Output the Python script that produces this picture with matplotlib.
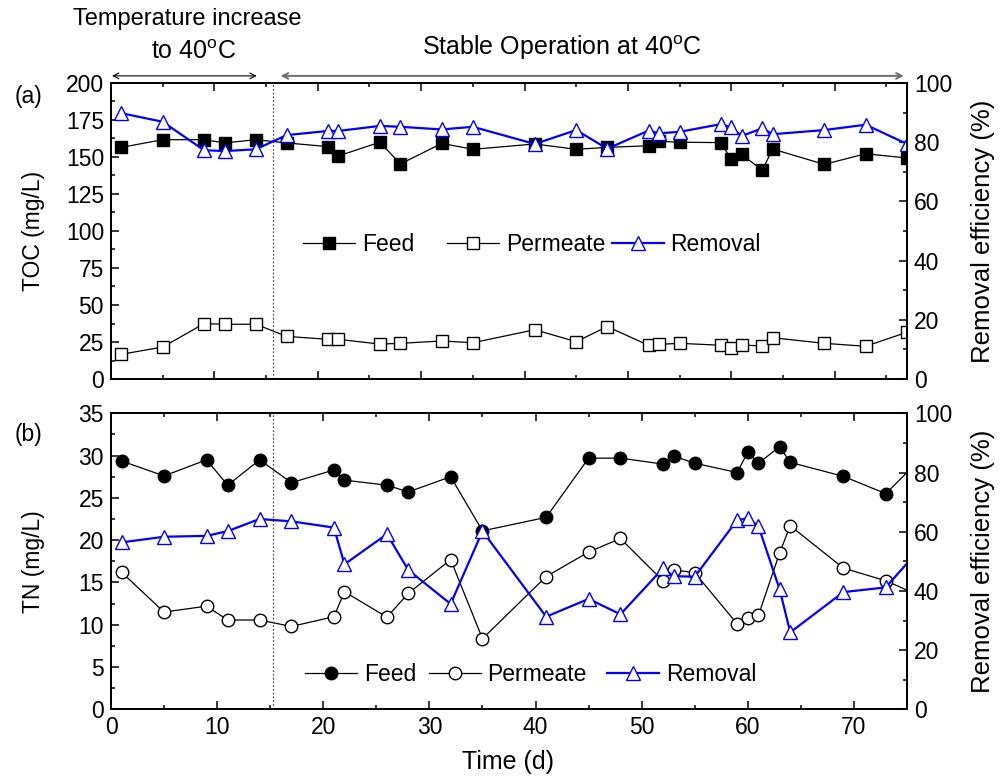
import matplotlib
matplotlib.use("Agg")
import matplotlib.pyplot as plt
from matplotlib.ticker import MultipleLocator
from matplotlib.legend import Legend

plt.rcParams['font.family'] = ['Liberation Sans', 'DejaVu Sans']
plt.rcParams['mathtext.fontset'] = 'custom'
plt.rcParams['mathtext.rm'] = 'Liberation Sans'
plt.rcParams['mathtext.it'] = 'Liberation Sans'

# ---- data ----
days = [1, 5, 9, 11, 14, 17, 21, 22, 26, 28, 32, 35, 41, 45, 48, 52, 53, 55,
        59, 60, 61, 63, 64, 69, 73, 77]
toc_feed = [156.5, 161.7, 161.7, 159.5, 161.7, 159.5, 157.0, 150.7, 160.0, 145.3,
            159.2, 155.2, 158.8, 155.2, 156.5, 157.6, 160.6, 160.0, 159.7, 148.4,
            151.8, 141.0, 155.4, 145.0, 152.2, 149.3]
toc_perm = [16.7, 21.6, 37.4, 37.0, 37.0, 28.8, 26.8, 26.8, 23.6, 24.1, 25.7, 24.5,
            33.3, 25.2, 35.4, 22.8, 23.4, 24.1, 22.8, 21.2, 23.0, 22.3, 27.9, 24.1,
            22.1, 31.6]
toc_rem = [89.8, 86.9, 77.3, 77.0, 77.6, 82.4, 83.8, 83.8, 85.5, 85.2, 84.3, 85.2,
           79.4, 84.1, 77.8, 83.9, 83.0, 83.5, 86.1, 85.0, 82.1, 84.7, 82.7, 84.1,
           85.9, 79.4]
tn_feed = [29.36, 27.6, 29.5, 26.5, 29.5, 26.8, 28.3, 27.1, 26.5, 25.7, 27.5, 21.1,
           22.7, 29.7, 29.7, 29.0, 29.95, 29.1, 28.0, 30.4, 29.1, 31.05, 29.2, 27.55,
           25.5, 30.5]
tn_perm = [16.2, 11.5, 12.2, 10.56, 10.56, 9.8, 10.95, 13.9, 10.9, 13.7, 17.7, 8.35,
           15.7, 18.6, 20.2, 15.2, 16.5, 16.15, 10.1, 10.75, 11.1, 18.5, 21.7, 16.7,
           15.2, 13.0]
tn_rem = [56.4, 58.3, 58.6, 60.2, 64.3, 63.5, 61.4, 49.0, 59.2, 47.1, 35.6, 60.2,
          31.3, 37.3, 32.1, 47.6, 45.0, 44.8, 63.95, 64.5, 61.9, 40.5, 26.0, 39.6,
          41.2, 57.4]
legend_labels = ['Feed', 'Permeate', 'Removal']

FS = 16.5
fig = plt.figure(figsize=(10, 7.8), dpi=100)
ax1 = fig.add_axes([0.111, 0.5141, 0.796, 0.3795])
ax2 = fig.add_axes([0.111, 0.0906, 0.796, 0.3795])


def style(ax, twin, xmax, ymax, ymaj, ymin):
    ax.set_xlim(0, xmax)
    ax.set_ylim(0, ymax)
    twin.set_ylim(0, 100)
    ax.xaxis.set_major_locator(MultipleLocator(10))
    ax.xaxis.set_minor_locator(MultipleLocator(5))
    ax.yaxis.set_major_locator(MultipleLocator(ymaj))
    ax.yaxis.set_minor_locator(MultipleLocator(ymin))
    twin.yaxis.set_major_locator(MultipleLocator(20))
    twin.yaxis.set_minor_locator(MultipleLocator(10))
    for a in (ax, twin):
        for s in a.spines.values():
            s.set_linewidth(1.3)
    ax.tick_params(which='both', direction='in', top=True, right=False,
                   labelsize=FS, width=1.1, pad=5)
    ax.tick_params(which='major', length=6)
    ax.tick_params(which='minor', length=3)
    twin.tick_params(which='both', direction='in', labelsize=FS, width=1.1, pad=5)
    twin.tick_params(which='major', length=6)
    twin.tick_params(which='minor', length=3)
    twin.set_ylabel('Removal efficiency (%)', fontsize=18.5)
    twin.yaxis.set_label_coords(1.08, 0.5)


def draw(ax, feed, perm, rem, fmark, ylabel, xmax, ymax, ymaj, ymin, vline,
         legy, legx):
    twin = ax.twinx()
    h1, = ax.plot(days, feed, color='black', lw=0.9, marker=fmark, ms=9,
                  mfc='black', mec='black', label=legend_labels[0])
    h2, = ax.plot(days, perm, color='black', lw=0.9, marker=fmark, ms=9,
                  mfc='white', mec='black', mew=1.0, label=legend_labels[1])
    h3, = twin.plot(days, rem, color='#0000ff', lw=1.6, marker='^', ms=9.5,
                    mfc='white', mec='#0000ff', mew=1.0, label=legend_labels[2])
    ax.axvline(vline, color='#555555', lw=0.9, ls=(0, (1.5, 1.5)))
    style(ax, twin, xmax, ymax, ymaj, ymin)
    ax.set_ylabel(ylabel, fontsize=FS)
    ax.yaxis.set_label_coords(-0.083, 0.5)
    for h, lab, lx in zip([h1, h2, h3], legend_labels, legx):
        lg = Legend(twin, [h], [lab], loc='center left', bbox_to_anchor=(lx, legy),
                    frameon=False, fontsize=FS, handlelength=2.27,
                    handletextpad=0.3, borderpad=0, borderaxespad=0)
        twin.add_artist(lg)
    return twin


t1 = draw(ax1, toc_feed, toc_perm, toc_rem, 's', 'TOC (mg/L)',
          77, 200, 25, 12.5, 15.7, 0.453, [0.241, 0.422, 0.629])
t2 = draw(ax2, tn_feed, tn_perm, tn_rem, 'o', 'TN (mg/L)',
          75, 35, 5, 2.5, 15.3, 0.116, [0.244, 0.399, 0.623])
ax1.tick_params(labelbottom=False)
ax2.set_xlabel('Time (d)', fontsize=18)
ax2.xaxis.set_label_coords(0.499, -0.1375)

# phase arrows
tr = ax1.get_xaxis_transform()
ax1.annotate('', xy=(0.1, 1.024), xytext=(14.1, 1.024), xycoords=tr, textcoords=tr,
             arrowprops=dict(arrowstyle='<->', color='black', lw=0.8,
                             shrinkA=0, shrinkB=0), annotation_clip=False)
ax1.annotate('', xy=(16.4, 1.024), xytext=(76.7, 1.024), xycoords=tr, textcoords=tr,
             arrowprops=dict(arrowstyle='<->', color='#6e6e6e', lw=1.4,
                             shrinkA=0, shrinkB=0), annotation_clip=False)

fig.text(0.187, 1 - 19 / 780, 'Temperature increase', ha='center', va='center',
         fontsize=17)
fig.text(0.194, 1 - 52 / 780, r'to 40$^\mathrm{o}$C', ha='center', va='center',
         fontsize=18)
fig.text(0.562, 1 - 48 / 780, r'Stable Operation at 40$^\mathrm{o}$C', ha='center',
         va='center', fontsize=18)

fig.text(0.028, 1 - 97 / 780, '(a)', ha='center', va='center', fontsize=FS)
fig.text(0.028, 1 - 435 / 780, '(b)', ha='center', va='center', fontsize=FS)

fig.savefig('out.png', dpi=100)
